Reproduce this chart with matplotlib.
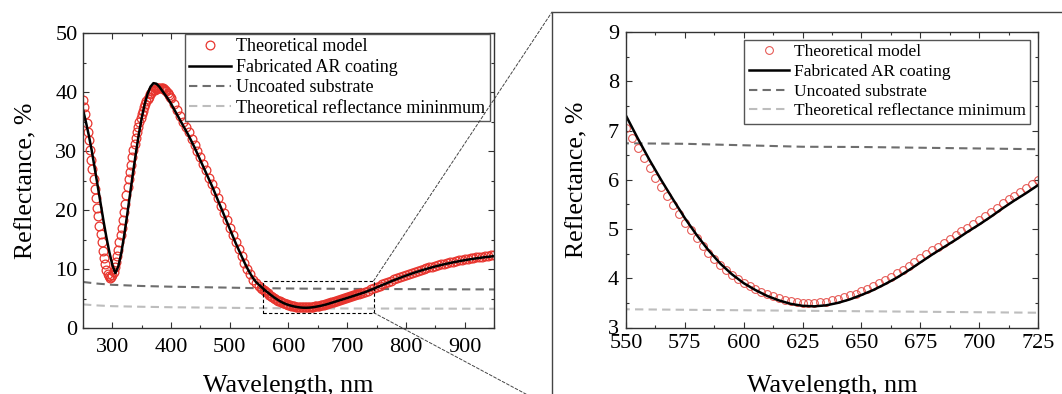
import numpy as np
import matplotlib
matplotlib.use('Agg')
import matplotlib.pyplot as plt
from matplotlib.patches import Rectangle, ConnectionPatch
from matplotlib.ticker import MultipleLocator

plt.rcParams['font.family'] = ['Liberation Serif', 'DejaVu Serif']

# измеренный спектр образца с покрытием, шаг 5 нм
wl_fab = np.arange(250, 951, 5)
r_fab = np.array([
    37.0, 34.9, 32.6, 30.0, 27.1, 24.1, 21.1, 18.1, 15.3, 12.8,
    10.7, 9.3, 10.4, 12.6, 15.6, 19.0, 22.6, 26.2, 29.6, 32.8,
    35.6, 37.9, 39.7, 40.9, 41.5, 41.4, 40.9, 40.2, 39.5, 38.8,
    38.0, 37.1, 36.2, 35.3, 34.4, 33.5, 32.6, 31.6, 30.6, 29.5,
    28.4, 27.3, 26.2, 25.1, 24.0, 22.8, 21.6, 20.4, 19.2, 18.0,
    16.8, 15.6, 14.4, 13.3, 12.2, 11.1, 10.1, 9.2, 8.4, 7.75,
    7.30, 6.84, 6.40, 5.99, 5.60, 5.22, 4.88, 4.57, 4.30, 4.08,
    3.90, 3.76, 3.64, 3.55, 3.48, 3.44, 3.43, 3.45, 3.50, 3.57,
    3.66, 3.76, 3.88, 4.01, 4.16, 4.32, 4.48, 4.63, 4.78, 4.94,
    5.09, 5.25, 5.42, 5.58, 5.73, 5.89, 6.06, 6.25, 6.46, 6.67,
    6.88, 7.09, 7.30, 7.51, 7.72, 7.92, 8.12, 8.32, 8.51, 8.70,
    8.88, 9.06, 9.23, 9.40, 9.56, 9.72, 9.87, 10.02, 10.16, 10.30,
    10.43, 10.56, 10.68, 10.80, 10.91, 11.02, 11.12, 11.22, 11.32, 11.41,
    11.50, 11.58, 11.66, 11.74, 11.81, 11.88, 11.95, 12.01, 12.07, 12.13,
    12.18])

# расчёт (модель), мельче шаг там, где кривая крутая или увеличена
wl_model = np.concatenate([np.arange(250, 400, 2), np.arange(400, 550, 5),
                           np.arange(550, 726, 2.5), np.arange(730, 951, 5)])
r_model = np.array([
    # 250..398, шаг 2
    38.6, 37.5, 36.2, 34.8, 33.3, 31.8, 30.2, 28.5, 26.9, 25.3,
    23.6, 22.0, 20.4, 18.9, 17.3, 15.9, 14.5, 13.1, 11.9, 10.8,
    9.9, 9.2, 8.8, 8.55, 8.6, 8.9, 9.5, 10.3, 11.2, 12.2,
    13.3, 14.5, 15.7, 17.0, 18.3, 19.7, 21.1, 22.5, 23.9, 25.2,
    26.4, 27.7, 28.9, 30.1, 31.2, 32.2, 33.2, 34.1, 34.9, 35.6,
    36.2, 36.8, 37.4, 37.9, 38.4, 38.8, 39.2, 39.6, 39.9, 40.1,
    40.3, 40.4, 40.5, 40.6, 40.6, 40.7, 40.7, 40.7, 40.6, 40.5,
    40.3, 40.1, 39.8, 39.5, 39.2,
    # 400..545, шаг 5
    38.9, 37.9, 36.9, 36.0, 35.0, 34.1, 33.2, 32.1, 31.1, 30.0,
    28.9, 27.8, 26.7, 25.5, 24.4, 23.2, 22.0, 20.7, 19.5, 18.3,
    17.0, 15.8, 14.5, 13.4, 12.2, 11.0, 10.0, 9.1, 8.2, 7.55,
    # 550..725, шаг 2.5
    7.06, 6.85, 6.64, 6.44, 6.23, 6.04, 5.85, 5.67, 5.49, 5.31,
    5.13, 4.97, 4.81, 4.66, 4.52, 4.39, 4.27, 4.17, 4.07, 3.99,
    3.91, 3.85, 3.79, 3.73, 3.68, 3.63, 3.60, 3.56, 3.53, 3.52,
    3.50, 3.49, 3.50, 3.51, 3.52, 3.55, 3.58, 3.61, 3.65, 3.69,
    3.74, 3.79, 3.84, 3.90, 3.97, 4.03, 4.10, 4.17, 4.25, 4.33,
    4.41, 4.49, 4.57, 4.64, 4.72, 4.79, 4.87, 4.95, 5.03, 5.10,
    5.19, 5.27, 5.35, 5.43, 5.52, 5.60, 5.68, 5.75, 5.83, 5.91,
    5.99,
    # 730..950, шаг 5
    6.16, 6.35, 6.56, 6.77, 6.98, 7.19, 7.40, 7.61, 7.82, 8.03,
    8.23, 8.43, 8.62, 8.81, 8.99, 9.17, 9.35, 9.52, 9.68, 9.84,
    9.99, 10.14, 10.28, 10.42, 10.56, 10.69, 10.81, 10.93, 11.05, 11.16,
    11.26, 11.36, 11.46, 11.55, 11.64, 11.73, 11.81, 11.89, 11.96, 12.03,
    12.10, 12.17, 12.23, 12.29, 12.34])

# подложка без покрытия и теоретический минимум отражения
wl_ref = np.array([250, 275, 300, 350, 400, 450, 500, 550, 575, 600,
                   625, 650, 675, 700, 725, 750, 800, 850, 900, 950])
r_uncoated = np.array([7.80, 7.52, 7.32, 7.12, 7.00, 6.92, 6.84, 6.74, 6.73, 6.70,
                       6.67, 6.665, 6.65, 6.635, 6.62, 6.61, 6.59, 6.57, 6.55, 6.54])
r_min = np.array([4.00, 3.82, 3.70, 3.60, 3.52, 3.47, 3.42, 3.37, 3.36, 3.35,
                  3.34, 3.33, 3.32, 3.31, 3.30, 3.30, 3.29, 3.28, 3.27, 3.26])

labels_left = ['Theoretical model', 'Fabricated AR coating',
               'Uncoated substrate', 'Theoretical reflectance mininmum']
labels_right = ['Theoretical model', 'Fabricated AR coating',
                'Uncoated substrate', 'Theoretical reflectance minimum']

# область, показанная справа крупно
zoom_x = (556, 745)
zoom_y = (2.6, 8.0)

W, H = 1062, 394
fig = plt.figure(figsize=(W / 100, H / 100), dpi=100)
ax1 = fig.add_axes([83 / W, 1 - 328 / H, 411 / W, 295 / H])
ax2 = fig.add_axes([626 / W, 1 - 327.5 / H, 412 / W, 295.5 / H])


def draw(ax, labels, ms, mew, mcol):
    h3, = ax.plot(wl_ref, r_uncoated, color='#6e6e6e', lw=1.5,
                  ls=(0, (4, 2.5)), label=labels[2])
    h4, = ax.plot(wl_ref, r_min, color='#bdbdbd', lw=1.5,
                  ls=(0, (4, 2.5)), label=labels[3])
    h1, = ax.plot(wl_model, r_model, 'o', mfc='none', mec=mcol,
                  ms=ms, mew=mew, label=labels[0])
    h2, = ax.plot(wl_fab, r_fab, color='black', lw=1.8, label=labels[1])
    for s in ax.spines.values():
        s.set_linewidth(1.0)
        s.set_color('#333333')
    ax.tick_params(which='both', direction='in', top=True, right=True,
                   width=0.8, color='#333333', labelsize=16)
    ax.tick_params(which='major', length=4)
    ax.tick_params(which='minor', length=2.3)
    ax.set_xlabel('Wavelength, nm', fontsize=18.8)
    ax.set_ylabel('Reflectance, %', fontsize=18.5)
    return [h1, h2, h3, h4]


hl = draw(ax1, labels_left, 6.3, 0.9, '#e8352e')
ax1.set_xlim(250, 950)
ax1.set_ylim(0, 50)
ax1.xaxis.set_major_locator(MultipleLocator(100))
ax1.xaxis.set_minor_locator(MultipleLocator(50))
ax1.yaxis.set_major_locator(MultipleLocator(10))
ax1.yaxis.set_minor_locator(MultipleLocator(5))
ax1.tick_params(axis='x', pad=7)
ax1.tick_params(axis='y', pad=4)
ax1.xaxis.set_label_coords(0.5, -0.161)
ax1.yaxis.set_label_coords(-0.112, 0.5)
ax1.legend(handles=hl, loc='upper right', bbox_to_anchor=(0.99, 0.997),
           fontsize=13, numpoints=1, handlelength=2.3, handletextpad=0.3,
           labelspacing=0.19, borderpad=0.25, borderaxespad=0,
           fancybox=False, framealpha=1, edgecolor='#555555')

hr = draw(ax2, labels_right, 5.6, 0.75, '#e5534e')
ax2.set_xlim(550, 725)
ax2.set_ylim(3, 9)
ax2.xaxis.set_major_locator(MultipleLocator(25))
ax2.xaxis.set_minor_locator(MultipleLocator(12.5))
ax2.yaxis.set_major_locator(MultipleLocator(1))
ax2.yaxis.set_minor_locator(MultipleLocator(0.5))
ax2.tick_params(axis='x', pad=5)
ax2.tick_params(axis='y', pad=5)
ax2.xaxis.set_label_coords(0.5, -0.161)
ax2.yaxis.set_label_coords(-0.09, 0.5)
ax2.legend(handles=hr, loc='upper right', bbox_to_anchor=(0.981, 0.973),
           fontsize=12.5, numpoints=1, handlelength=2.3, handletextpad=0.3,
           labelspacing=0.2, borderpad=0.25, borderaxespad=0,
           fancybox=False, framealpha=1, edgecolor='#555555')

# пунктирная рамка на левом графике
ax1.add_patch(Rectangle((zoom_x[0], zoom_y[0]), zoom_x[1] - zoom_x[0],
                        zoom_y[1] - zoom_y[0], fill=False, lw=0.8,
                        ls=(0, (3, 2)), ec='black', zorder=5))

# рамка вокруг увеличенного графика и линии-выноски к ней
fx, fy = 552 / W, 1 - 12 / H
fig.add_artist(Rectangle((fx, -0.2), 0.6, fy + 0.2, fill=False, lw=1.0,
                         ec='#444444', transform=fig.transFigure))
for ya, yb in [(zoom_y[1], fy), (zoom_y[0], 1 - 408 / H)]:
    con = ConnectionPatch(xyA=(zoom_x[1], ya), coordsA=ax1.transData,
                          xyB=(fx, yb), coordsB=fig.transFigure,
                          lw=0.7, ls=(0, (3, 2)), color='#444444')
    fig.add_artist(con)

fig.savefig('out.png', dpi=100)
